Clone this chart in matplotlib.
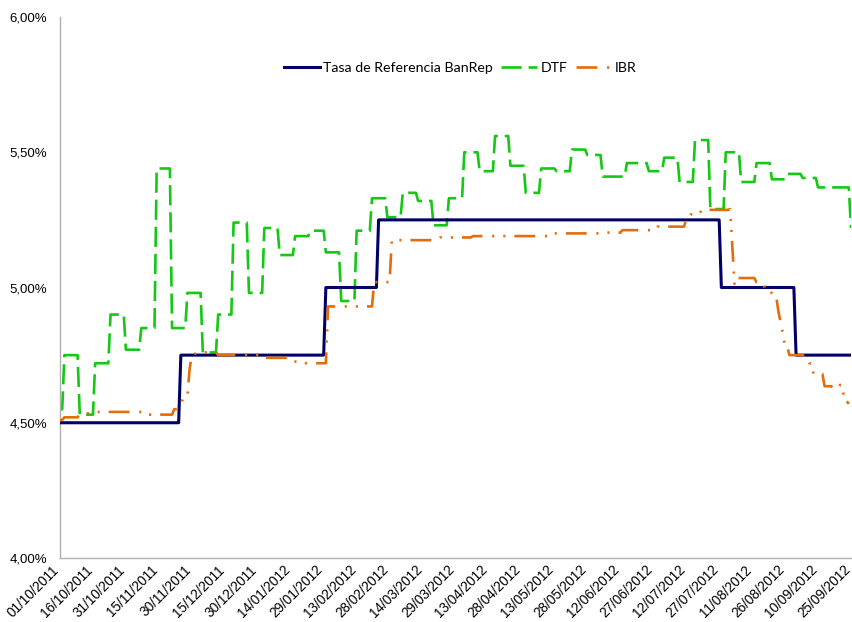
import numpy as np
import pandas as pd
import matplotlib
matplotlib.use("Agg")
import matplotlib.pyplot as plt
import matplotlib.dates as mdates
import matplotlib.transforms as mtransforms
from matplotlib.ticker import FuncFormatter

plt.rcParams['font.family'] = ['Liberation Sans', 'DejaVu Sans']
plt.rcParams['lines.scale_dashes'] = False

start = '2011-10-01'
end = '2012-09-25'

# Tasa de referencia del Banco de la Republica (% EA), fechas de cambio
banrep_dates = ['2011-10-01', '2011-11-25', '2012-01-30', '2012-02-23',
                '2012-07-28', '2012-08-31']
banrep_vals = [4.50, 4.75, 5.00, 5.25, 5.00, 4.75]

# DTF semanal, fechas de cambio
dtf_dates = ['2011-10-01', '2011-10-03', '2011-10-10', '2011-10-17', '2011-10-24',
             '2011-10-31', '2011-11-07', '2011-11-14', '2011-11-21', '2011-11-28',
             '2011-12-05', '2011-12-12', '2011-12-19', '2011-12-26', '2012-01-02',
             '2012-01-09', '2012-01-16', '2012-01-23', '2012-01-30', '2012-02-06',
             '2012-02-13', '2012-02-20', '2012-02-27', '2012-03-05', '2012-03-12',
             '2012-03-19', '2012-03-26', '2012-04-02', '2012-04-09', '2012-04-16',
             '2012-04-23', '2012-04-30', '2012-05-07', '2012-05-14', '2012-05-21',
             '2012-05-28', '2012-06-04', '2012-06-15', '2012-06-25', '2012-07-02',
             '2012-07-09', '2012-07-16', '2012-07-23', '2012-07-30', '2012-08-06',
             '2012-08-13', '2012-08-20', '2012-08-27', '2012-09-03', '2012-09-10',
             '2012-09-17', '2012-09-25']
dtf_vals = [4.55, 4.75, 4.53, 4.72, 4.90,
            4.77, 4.85, 5.44, 4.85, 4.98,
            4.76, 4.90, 5.24, 4.98, 5.22,
            5.12, 5.19, 5.21, 5.13, 4.95,
            5.21, 5.33, 5.26, 5.35, 5.32,
            5.23, 5.33, 5.50, 5.43, 5.56,
            5.45, 5.35, 5.44, 5.43, 5.51,
            5.49, 5.41, 5.46, 5.43, 5.48,
            5.39, 5.545, 5.29, 5.50, 5.39,
            5.46, 5.40, 5.42, 5.405, 5.37,
            5.37, 5.22]

# IBR, fechas de cambio
ibr_dates = ['2011-10-01', '2011-10-03', '2011-10-10', '2011-10-17', '2011-11-10',
             '2011-11-22', '2011-11-24', '2011-11-26', '2011-11-28', '2011-11-29',
             '2011-11-30', '2011-12-02', '2011-12-12', '2012-01-02', '2012-01-14',
             '2012-01-21', '2012-01-30', '2012-01-31', '2012-02-21', '2012-02-28',
             '2012-02-29', '2012-03-22', '2012-04-06', '2012-05-13', '2012-06-06',
             '2012-06-13', '2012-06-29', '2012-07-12', '2012-07-14', '2012-07-19',
             '2012-08-01', '2012-08-02', '2012-08-03', '2012-08-04', '2012-08-13',
             '2012-08-17', '2012-08-19', '2012-08-21', '2012-08-23', '2012-08-24',
             '2012-08-25', '2012-08-26', '2012-08-28', '2012-09-04', '2012-09-06',
             '2012-09-08', '2012-09-13', '2012-09-17', '2012-09-20', '2012-09-22',
             '2012-09-24']
ibr_vals = [4.51, 4.52, 4.535, 4.54, 4.53,
            4.55, 4.57, 4.59, 4.60, 4.70,
            4.75, 4.76, 4.75, 4.74, 4.726,
            4.72, 4.72, 4.93, 5.02, 5.02,
            5.175, 5.185, 5.19, 5.20, 5.203,
            5.212, 5.225, 5.253, 5.27, 5.287,
            5.29, 5.15, 5.01, 5.035, 5.02,
            4.99, 4.98, 4.965, 4.91, 4.87,
            4.83, 4.78, 4.75, 4.745, 4.72,
            4.68, 4.635, 4.625, 4.64, 4.58,
            4.57]
ibr_end = '2012-09-24'

tick_dates = pd.date_range(start, end, freq='15D')
y_ticks = [4.0, 4.5, 5.0, 5.5, 6.0]


def daily(dates, vals, last):
    # mantiene cada valor hasta la siguiente fecha de cambio
    s = pd.Series(vals, index=pd.to_datetime(dates))
    days = pd.date_range(s.index[0], last, freq='D')
    return s.reindex(days).ffill()


banrep = daily(banrep_dates, banrep_vals, end)
dtf = daily(dtf_dates, dtf_vals, end)
ibr = daily(ibr_dates, ibr_vals, ibr_end)

fig = plt.figure(figsize=(8.53, 6.22), dpi=100)
ax = fig.add_axes([60 / 853, 1 - 558 / 622, 791 / 853, 541 / 622])

ax.plot(banrep.index, banrep.values, color='#000066', lw=2.2,
        label='Tasa de Referencia BanRep', zorder=3)
ax.plot(dtf.index, dtf.values, color='#14C814', lw=1.9,
        dashes=(14.5, 5.0), label='DTF', zorder=2)
ax.plot(ibr.index, ibr.values, color='#E46C0A', lw=1.9,
        dashes=(15, 7, 1.5, 6.5, 1.5, 6.5), label='IBR', zorder=4)

ax.set_xlim(pd.Timestamp(start), pd.Timestamp(end))
ax.set_ylim(4.0, 6.0)

ax.set_xticks(tick_dates)
ax.xaxis.set_major_formatter(mdates.DateFormatter('%d/%m/%Y'))
ax.set_yticks(y_ticks)
ax.yaxis.set_major_formatter(FuncFormatter(lambda v, p: f'{v:.2f}%'.replace('.', ',')))

ax.tick_params(axis='y', length=0, pad=9, labelsize=9.5)
ax.tick_params(axis='x', length=0, pad=7, labelsize=9.8)
# fechas giradas 45 grados, corridas un poco a la izquierda
shift = mtransforms.ScaledTranslation(-3 / 100, 0, fig.dpi_scale_trans)
for lbl in ax.get_xticklabels():
    lbl.set_rotation(45)
    lbl.set_ha('right')
    lbl.set_va('center')
    lbl.set_rotation_mode('anchor')
    lbl.set_transform(lbl.get_transform() + shift)

for side in ['top', 'right']:
    ax.spines[side].set_visible(False)
for side in ['left', 'bottom']:
    ax.spines[side].set_color('#B0B0B0')
    ax.spines[side].set_linewidth(1.0)

ax.legend(loc='center', bbox_to_anchor=(0.506, 0.906), ncol=3, frameon=False,
          handlelength=2.5, handletextpad=0.25, columnspacing=0.6,
          prop={'family': 'Lato', 'size': 10.2})

fig.savefig('out.png', dpi=100)
